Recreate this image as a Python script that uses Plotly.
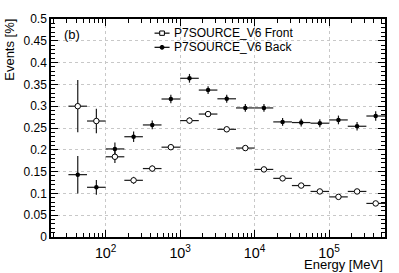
import plotly.graph_objects as go

# ---- data ----
energy_centers = [42.2, 75.0, 133, 237, 422, 750, 1334, 2371, 4217, 7499,
                  13335, 23714, 42170, 74989, 133352, 237137, 421697]
bin_edges = [31.6, 56.2, 100, 178, 316, 562, 1000, 1778, 3162, 5623,
             10000, 17783, 31623, 56234, 100000, 177828, 316228, 562341]

front_vals = [0.300, 0.266, 0.184, 0.130, 0.157, 0.206, 0.267, 0.282, 0.247, 0.204,
              0.155, 0.1345, 0.118, 0.1045, 0.092, 0.1045, 0.077]
front_errs = [0.060, 0.028, 0.014, 0.008, 0.007, 0.006, 0.007, 0.007, 0.006, 0.005,
              0.005, 0.005, 0.004, 0.004, 0.004, 0.004, 0.004]
back_vals = [0.143, 0.114, 0.202, 0.230, 0.257, 0.3165, 0.364, 0.337, 0.317, 0.296,
             0.296, 0.264, 0.2625, 0.261, 0.2685, 0.254, 0.2775]
back_errs = [0.043, 0.017, 0.015, 0.012, 0.010, 0.010, 0.010, 0.009, 0.009, 0.009,
             0.009, 0.009, 0.009, 0.009, 0.010, 0.010, 0.011]

series_names = ["P7SOURCE_V6 Front", "P7SOURCE_V6 Back"]
y_ticks = [0, 0.05, 0.1, 0.15, 0.2, 0.25, 0.3, 0.35, 0.4, 0.45, 0.5]
y_ticklabels = ["0", "0.05", "0.1", "0.15", "0.2", "0.25", "0.3", "0.35", "0.4", "0.45", "0.5"]

# asymmetric x errors from bin edges
xerr_plus = [bin_edges[i + 1] - c for i, c in enumerate(energy_centers)]
xerr_minus = [c - bin_edges[i] for i, c in enumerate(energy_centers)]

FONT = "Liberation Sans, Arial, Helvetica, sans-serif"
ECOL = "#1a1a1a"

fig = go.Figure()
fig.add_trace(go.Scatter(
    x=energy_centers, y=back_vals, mode="markers", name=series_names[1],
    marker=dict(symbol="circle", size=4.5, color="black"),
    error_x=dict(type="data", array=xerr_plus, arrayminus=xerr_minus, symmetric=False,
                 color=ECOL, thickness=1.2, width=0),
    error_y=dict(type="data", array=back_errs, color=ECOL, thickness=1.2, width=0),
    showlegend=False,
))
fig.add_trace(go.Scatter(
    x=energy_centers, y=front_vals, mode="markers", name=series_names[0],
    marker=dict(symbol="circle", size=5.5, color="white", line=dict(color="black", width=1)),
    error_x=dict(type="data", array=xerr_plus, arrayminus=xerr_minus, symmetric=False,
                 color=ECOL, thickness=1.2, width=0),
    error_y=dict(type="data", array=front_errs, color=ECOL, thickness=1.2, width=0),
    showlegend=False,
))

fig.update_layout(
    width=399, height=273,
    margin=dict(l=51, r=12, t=15, b=35, pad=0),
    paper_bgcolor="white", plot_bgcolor="white",
    font=dict(family=FONT, size=12, color="black"),
)

fig.update_xaxes(
    type="log", range=[1.266, 5.75],
    showline=True, linecolor="black", linewidth=1.5, mirror="allticks",
    ticks="inside", ticklen=7, tickwidth=1, tickcolor="black",
    dtick=1, exponentformat="power", showexponent="all",
    tickfont=dict(size=11.5, family=FONT), ticklabelstandoff=3,
    showgrid=True, gridcolor="#c8c8c8", griddash="dot", gridwidth=1,
    minor=dict(ticks="inside", ticklen=4, tickcolor="black", dtick="D1", showgrid=False),
    zeroline=False,
)
fig.update_yaxes(
    range=[0, 0.5],
    showline=True, linecolor="black", linewidth=1.5, mirror="allticks",
    ticks="inside", ticklen=7, tickwidth=1, tickcolor="black",
    tickvals=y_ticks, ticktext=y_ticklabels,
    tickfont=dict(size=12, family=FONT),
    showgrid=True, gridcolor="#c8c8c8", griddash="dot", gridwidth=1,
    minor=dict(ticks="inside", ticklen=4, tickcolor="black", dtick=0.01, showgrid=False),
    zeroline=False,
)

# axis titles (ROOT-style, aligned at axis ends)
fig.add_annotation(text="Events [%]", xref="paper", yref="paper", x=-0.125, y=0.86,
                   textangle=-90, showarrow=False, xanchor="center", yanchor="middle",
                   font=dict(size=13, family=FONT))
fig.add_annotation(text="Energy [MeV]", xref="paper", yref="paper", x=1.0, y=-0.124,
                   showarrow=False, xanchor="right", yanchor="middle",
                   font=dict(size=13, family=FONT))
fig.add_annotation(text="(b)", xref="paper", yref="paper", x=0.033, y=0.928,
                   showarrow=False, xanchor="left", yanchor="middle",
                   font=dict(size=13, family=FONT))

# custom ROOT-like legend
leg_rows = [0.935, 0.870]
for i, yy in enumerate(leg_rows):
    fig.add_shape(type="line", xref="paper", yref="paper", x0=0.310, x1=0.355, y0=yy, y1=yy,
                  line=dict(color=ECOL, width=1.3))
    fig.add_annotation(text=series_names[i], xref="paper", yref="paper", x=0.362, y=yy,
                       showarrow=False, xanchor="left", yanchor="middle",
                       font=dict(size=12, family=FONT))
# legend marker glyphs
fig.add_shape(type="rect", xref="paper", yref="paper", x0=0.3255, x1=0.3395,
              y0=leg_rows[0] - 0.010, y1=leg_rows[0] + 0.010,
              line=dict(color="black", width=1), fillcolor="white")
fig.add_shape(type="circle", xref="paper", yref="paper", x0=0.3265, x1=0.3385,
              y0=leg_rows[1] - 0.009, y1=leg_rows[1] + 0.009,
              line=dict(color="black", width=1), fillcolor="black")

fig.write_html("out.html", config={"displayModeBar": False},
               post_script="document.body.style.margin='0';document.body.style.overflow='hidden';")
